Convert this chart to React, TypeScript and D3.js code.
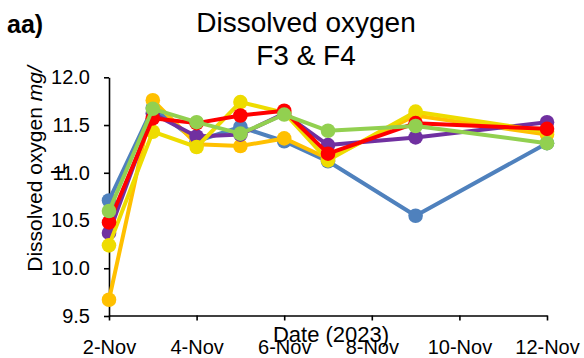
import React, { useEffect, useRef } from 'react';
import * as d3 from 'd3';

// sampling dates (Nov 2023)
const dates = ['2023-11-02', '2023-11-03', '2023-11-04', '2023-11-05', '2023-11-06', '2023-11-07', '2023-11-09', '2023-11-12'];
const xTickDates = ['2023-11-02', '2023-11-04', '2023-11-06', '2023-11-08', '2023-11-10', '2023-11-12'];
const yTicks = [9.5, 10.0, 10.5, 11.0, 11.5, 12.0];

const blueVals = [10.71, 11.68, 11.33, 11.48, 11.33, 11.12, 10.55, 11.31];
const orangeVals = [9.67, 11.76, 11.3, 11.28, 11.36, 11.15, 11.6, 11.4];
const purpleVals = [10.37, 11.62, 11.38, 11.4, 11.62, 11.29, 11.37, 11.53];
const yellowVals = [10.24, 11.43, 11.27, 11.74, 11.63, 11.13, 11.64, 11.43];
const redVals = [10.48, 11.57, 11.52, 11.6, 11.65, 11.2, 11.52, 11.46];
const greenVals = [10.6, 11.67, 11.53, 11.41, 11.61, 11.44, 11.49, 11.31];

const seriesColors = ['#4F81BD', '#FFC000', '#7030A0', '#EEDC00', '#FF0000', '#92D050'];

const FONT = "'Liberation Sans', Arial, sans-serif";

const parseDate = (s: string) => {
  const [y, m, d] = s.split('-').map(Number);
  return new Date(y, m - 1, d);
};

const App = () => {
  const ref = useRef<SVGSVGElement | null>(null);

  useEffect(() => {
    if (!ref.current) return;
    const svg = d3.select(ref.current);
    svg.selectAll('*').remove();

    const allSeries = [blueVals, orangeVals, purpleVals, yellowVals, redVals, greenVals];

    const x = d3
      .scaleTime()
      .domain([parseDate('2023-11-02'), parseDate('2023-11-12')])
      .range([109, 547]);

    const y = d3.scaleLinear().domain([9.5, 12.0]).range([316, 77.3]);

    // axes
    const xAxis = svg
      .append('g')
      .attr('transform', 'translate(0,315.5)')
      .call(
        d3
          .axisBottom(x)
          .tickValues(xTickDates.map(parseDate))
          .tickFormat(d3.timeFormat('%-d-%b') as any)
          .tickSize(5)
          .tickSizeOuter(0)
          .tickPadding(19)
      );
    xAxis.selectAll('path, line').attr('stroke', '#000').attr('stroke-width', 1.6);
    xAxis.selectAll('text').attr('fill', '#000').style('font-family', FONT).style('font-size', '20px');

    const yAxis = svg
      .append('g')
      .attr('transform', 'translate(109,0)')
      .call(
        d3
          .axisLeft(y)
          .tickValues(yTicks)
          .tickFormat(d3.format('.1f'))
          .tickSize(5)
          .tickSizeOuter(0)
          .tickPadding(14)
      );
    yAxis.selectAll('path, line').attr('stroke', '#000').attr('stroke-width', 1.6);
    yAxis.selectAll('text').attr('fill', '#000').style('font-family', FONT).style('font-size', '20px');

    // series
    const line = d3
      .line<number>()
      .x((_, i) => x(parseDate(dates[i])))
      .y(d => y(d));

    allSeries.forEach((vals, k) => {
      const g = svg.append('g');
      g.append('path')
        .attr('d', line(vals))
        .attr('fill', 'none')
        .attr('stroke', seriesColors[k])
        .attr('stroke-width', 4)
        .attr('stroke-linejoin', 'round');
      g.selectAll('circle')
        .data(vals)
        .enter()
        .append('circle')
        .attr('cx', (_, i) => x(parseDate(dates[i])))
        .attr('cy', d => y(d))
        .attr('r', 7.3)
        .attr('fill', seriesColors[k]);
    });

    // titles
    svg
      .append('text')
      .attr('x', 7)
      .attr('y', 33)
      .style('font-family', FONT)
      .style('font-size', '25px')
      .style('font-weight', 'bold')
      .text('aa)');

    const title = svg
      .append('text')
      .attr('text-anchor', 'middle')
      .style('font-family', FONT)
      .style('font-size', '28px');
    title.append('tspan').attr('x', 306).attr('y', 32).text('Dissolved oxygen');
    title.append('tspan').attr('x', 306).attr('y', 65).text('F3 & F4');

    const yTitle = svg
      .append('text')
      .attr('transform', 'translate(42,169) rotate(-90)')
      .attr('text-anchor', 'middle')
      .style('font-family', FONT)
      .style('font-size', '21px');
    const l1 = yTitle.append('tspan').attr('x', 0).attr('y', 0);
    l1.append('tspan').text('Dissolved oxygen ');
    l1.append('tspan').style('font-style', 'italic').text('mg/');
    yTitle.append('tspan').attr('x', 0).attr('y', 23).text('L');

    svg
      .append('text')
      .attr('x', 331)
      .attr('y', 342)
      .attr('text-anchor', 'middle')
      .style('font-family', FONT)
      .style('font-size', '22px')
      .text('Date (2023)');
  }, []);

  return (
    <svg
      ref={ref}
      width={584}
      height={358}
      style={{ position: 'absolute', left: 0, top: 0, background: '#fff' }}
    />
  );
};

export default App;
